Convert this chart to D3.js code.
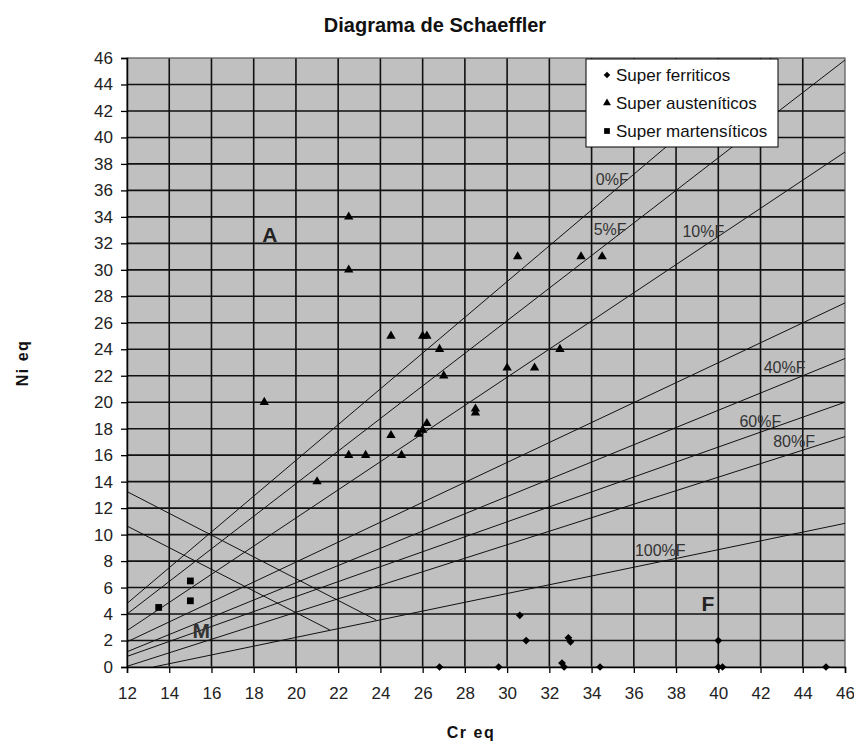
<!DOCTYPE html>
<html lang="es">
<head>
    <meta charset="utf-8">
    <title>Diagrama de Schaeffler</title>
    <script src="https://d3js.org/d3.v7.min.js"></script>
    <style type="text/css">
        body { margin: 0; background: #fff; }
        svg { display: block; font-family: "Liberation Sans", Arial, sans-serif; }
    </style>
</head>
<body>
<script type="text/javascript">
    //Data
    var xTicks = [12, 14, 16, 18, 20, 22, 24, 26, 28, 30, 32, 34, 36, 38, 40, 42, 44, 46];
    var yTicks = [0, 2, 4, 6, 8, 10, 12, 14, 16, 18, 20, 22, 24, 26, 28, 30, 32, 34, 36, 38, 40, 42, 44, 46];

    var seriesNames = ["Super ferriticos", "Super austeníticos", "Super martensíticos"];

    var ferrCr = [26.8, 29.6, 30.6, 30.9, 32.6, 32.7, 32.9, 33.0, 34.4, 40.0, 40.0, 40.2, 45.1];
    var ferrNi = [0, 0, 3.9, 2.0, 0.3, 0, 2.2, 1.9, 0, 2.0, 0, 0, 0];

    var austCr = [22.5, 22.5, 24.5, 26.0, 26.2, 26.8, 30.5, 33.5, 34.5, 32.5, 30.0, 31.3,
                  28.5, 28.5, 18.5, 27.0, 21.0, 22.5, 23.3, 25.0, 24.5, 25.8, 26.0, 26.2];
    var austNi = [34, 30, 25, 25, 25, 24, 31, 31, 31, 24, 22.6, 22.6,
                  19.5, 19.2, 20, 22, 14, 16, 16, 16, 17.5, 17.6, 17.9, 18.4];

    var martCr = [13.5, 15.0, 15.0];
    var martNi = [4.5, 6.5, 5.0];

    //constant ferrite lines
    var lineNames = ["0%F", "5%F", "10%F", "", "40%F", "60%F", "80%F", "100%F"];
    var lineCr1 = [12, 12, 12, 12, 12, 12, 12, 13.25];
    var lineNi1 = [4.8, 4.0, 2.75, 1.9, 1.15, 0.8, 0.05, 0];
    var lineCr2 = [42.5, 46, 46, 46, 46, 46, 46, 46];
    var lineNi2 = [46, 45.85, 38.9, 27.5, 23.3, 20.0, 17.4, 10.85];
    //where each label starts (Cr, Ni of the baseline)
    var labelCr = [34.2, 34.1, 38.3, 0, 42.15, 41.0, 42.6, 36.05];
    var labelNi = [36.4, 32.6, 32.5, 0, 22.2, 18.15, 16.65, 8.35];

    //martensite boundary lines
    var mCr1 = [12, 12];
    var mNi1 = [13.25, 10.65];
    var mCr2 = [23.8, 21.6];
    var mNi2 = [3.55, 2.8];

    //region letters
    var regionNames = ["A", "M", "F"];
    var regionCr = [18.4, 15.1, 39.2];
    var regionNi = [32.1, 2.2, 4.25];

    //Width and height
    var w = 854;
    var h = 742;
    var margin = {top: 58, right: 9, bottom: 75, left: 127};

    var xScale = d3.scaleLinear()
        .domain([12, 46])
        .range([margin.left, w - margin.right]);
    var yScale = d3.scaleLinear()
        .domain([0, 46])
        .range([h - margin.bottom, margin.top]);

    var svg = d3.select("body")
        .append("svg")
        .attr("width", w)
        .attr("height", h);

    //plot background
    svg.append("rect")
        .attr("x", xScale(12))
        .attr("y", yScale(46))
        .attr("width", xScale(46) - xScale(12))
        .attr("height", yScale(0) - yScale(46))
        .attr("fill", "#c0c0c0");

    //grid
    svg.append("g")
        .selectAll("line")
        .data(xTicks.slice(1, -1))
        .enter()
        .append("line")
        .attr("x1", function(d) { return xScale(d); })
        .attr("x2", function(d) { return xScale(d); })
        .attr("y1", yScale(0))
        .attr("y2", yScale(46))
        .attr("stroke", "#111")
        .attr("stroke-width", 1.6);
    svg.append("g")
        .selectAll("line")
        .data(yTicks.slice(1, -1))
        .enter()
        .append("line")
        .attr("x1", xScale(12))
        .attr("x2", xScale(46))
        .attr("y1", function(d) { return yScale(d); })
        .attr("y2", function(d) { return yScale(d); })
        .attr("stroke", "#111")
        .attr("stroke-width", 1.6);

    //plot border
    svg.append("rect")
        .attr("x", xScale(12))
        .attr("y", yScale(46))
        .attr("width", xScale(46) - xScale(12))
        .attr("height", yScale(0) - yScale(46))
        .attr("fill", "none")
        .attr("stroke", "#555")
        .attr("stroke-width", 1.2);

    //ferrite lines
    svg.append("g")
        .selectAll("line")
        .data(lineNames)
        .enter()
        .append("line")
        .attr("x1", function(d, i) { return xScale(lineCr1[i]); })
        .attr("y1", function(d, i) { return yScale(lineNi1[i]); })
        .attr("x2", function(d, i) { return xScale(lineCr2[i]); })
        .attr("y2", function(d, i) { return yScale(lineNi2[i]); })
        .attr("stroke", "#111")
        .attr("stroke-width", 1);

    //M lines
    svg.append("g")
        .selectAll("line")
        .data(mCr1)
        .enter()
        .append("line")
        .attr("x1", function(d, i) { return xScale(mCr1[i]); })
        .attr("y1", function(d, i) { return yScale(mNi1[i]); })
        .attr("x2", function(d, i) { return xScale(mCr2[i]); })
        .attr("y2", function(d, i) { return yScale(mNi2[i]); })
        .attr("stroke", "#111")
        .attr("stroke-width", 1);

    //line labels
    svg.append("g")
        .selectAll("text")
        .data(lineNames)
        .enter()
        .filter(function(d) { return d !== ""; })
        .append("text")
        .text(function(d) { return d; })
        .attr("x", function(d) { return xScale(labelCr[lineNames.indexOf(d)]); })
        .attr("y", function(d) { return yScale(labelNi[lineNames.indexOf(d)]); })
        .attr("font-size", "16px")
        .attr("fill", "#333");

    //region letters
    svg.append("g")
        .selectAll("text")
        .data(regionNames)
        .enter()
        .append("text")
        .text(function(d) { return d; })
        .attr("x", function(d, i) { return xScale(regionCr[i]); })
        .attr("y", function(d, i) { return yScale(regionNi[i]); })
        .attr("font-size", "21px")
        .attr("font-weight", "bold")
        .attr("fill", function(d) { return d === "M" ? "#333" : "#222"; });

    //axes
    var xAxis = d3.axisBottom(xScale)
        .tickValues(xTicks)
        .tickSize(6)
        .tickPadding(14);
    var yAxis = d3.axisLeft(yScale)
        .tickValues(yTicks)
        .tickSize(6)
        .tickPadding(8);

    var gx = svg.append("g")
        .attr("transform", "translate(0," + yScale(0) + ")")
        .call(xAxis);
    var gy = svg.append("g")
        .attr("transform", "translate(" + xScale(12) + ",0)")
        .call(yAxis);
    gx.select(".domain").attr("stroke", "#000").attr("stroke-width", 1.5);
    gy.select(".domain").attr("stroke", "#000").attr("stroke-width", 1.5);
    svg.selectAll(".tick line").attr("stroke-width", 1.3);
    svg.selectAll(".tick text")
        .attr("font-family", "'Liberation Sans', Arial, sans-serif")
        .attr("font-size", "17px")
        .attr("fill", "#222");

    //markers
    var diamond = d3.symbol().type(d3.symbolSquare).size(30);
    var triangle = d3.symbol().type(d3.symbolTriangle).size(38);
    var square = d3.symbol().type(d3.symbolSquare).size(46);

    svg.append("g")
        .selectAll("path")
        .data(ferrCr)
        .enter()
        .append("path")
        .attr("d", diamond)
        .attr("transform", function(d, i) {
            return "translate(" + xScale(d) + "," + yScale(ferrNi[i]) + ") rotate(45)";
        })
        .attr("fill", "#000");

    svg.append("g")
        .selectAll("path")
        .data(austCr)
        .enter()
        .append("path")
        .attr("d", triangle)
        .attr("transform", function(d, i) {
            return "translate(" + xScale(d) + "," + yScale(austNi[i]) + ")";
        })
        .attr("fill", "#000");

    svg.append("g")
        .selectAll("path")
        .data(martCr)
        .enter()
        .append("path")
        .attr("d", square)
        .attr("transform", function(d, i) {
            return "translate(" + xScale(d) + "," + yScale(martNi[i]) + ")";
        })
        .attr("fill", "#000");

    //legend
    var legend = svg.append("g")
        .attr("transform", "translate(586,59)");
    legend.append("rect")
        .attr("width", 192)
        .attr("height", 88)
        .attr("fill", "#fff")
        .attr("stroke", "#000")
        .attr("stroke-width", 1);
    var symbols = [diamond, triangle, square];
    var rows = legend.selectAll("g.row")
        .data(seriesNames)
        .enter()
        .append("g")
        .attr("class", "row")
        .attr("transform", function(d, i) { return "translate(0," + (16 + i * 28) + ")"; });
    rows.append("path")
        .attr("d", function(d, i) { return symbols[i](); })
        .attr("transform", function(d, i) {
            return "translate(21,0)" + (i === 0 ? " rotate(45)" : "") + " scale(0.85)";
        })
        .attr("fill", "#000");
    rows.append("text")
        .text(function(d) { return d; })
        .attr("x", 30)
        .attr("dy", "0.36em")
        .attr("font-size", "17px")
        .attr("fill", "#111");

    //titles
    svg.append("text")
        .text("Diagrama de Schaeffler")
        .attr("x", 435)
        .attr("y", 32)
        .attr("text-anchor", "middle")
        .attr("font-size", "20px")
        .attr("font-weight", "bold")
        .attr("fill", "#111");
    svg.append("text")
        .text("Cr eq")
        .attr("x", 471)
        .attr("y", 738)
        .attr("text-anchor", "middle")
        .attr("font-size", "16px")
        .attr("font-weight", "bold")
        .attr("letter-spacing", "1.5px")
        .attr("fill", "#111");
    svg.append("text")
        .text("Ni eq")
        .attr("transform", "translate(28,363) rotate(-90)")
        .attr("text-anchor", "middle")
        .attr("font-size", "16px")
        .attr("font-weight", "bold")
        .attr("letter-spacing", "1.5px")
        .attr("fill", "#111");
</script>
</body>
</html>
